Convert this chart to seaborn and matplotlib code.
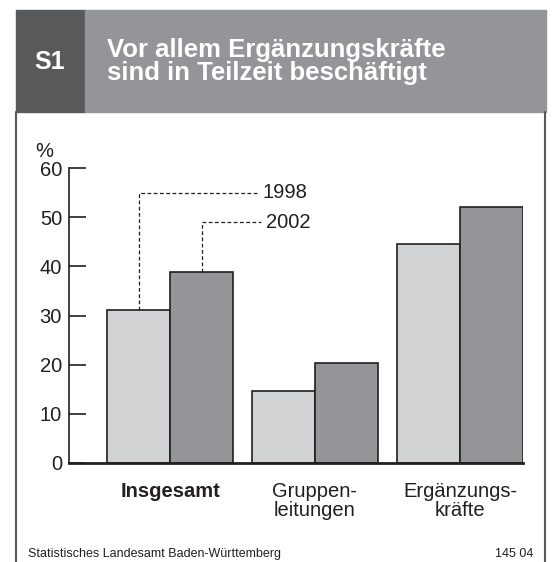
import matplotlib
matplotlib.use("Agg")
import matplotlib.pyplot as plt
from matplotlib.patches import Rectangle
from matplotlib.lines import Line2D
import pandas as pd
import seaborn as sns

groups = ["Insgesamt", "Gruppen-\nleitungen", "Ergänzungs-\nkräfte"]
years = ["1998", "2002"]
values_1998 = [31.1, 14.6, 44.5]
values_2002 = [38.8, 20.3, 52.0]
y_ticks = [0, 10, 20, 30, 40, 50, 60]
leader_y = [55, 49]

df = pd.DataFrame({
    "group": groups * 2,
    "year": [years[0]] * 3 + [years[1]] * 3,
    "value": values_1998 + values_2002,
})

sns.set_style("ticks")
plt.rcParams["font.family"] = ["Liberation Sans", "DejaVu Sans"]

W, H = 552, 562
ink = "#231f20"
fig = plt.figure(figsize=(W / 100, H / 100), dpi=100)
ax = fig.add_axes([69 / W, 1 - 463 / H, 454 / W, 295 / H])

sns.barplot(data=df, x="group", y="value", hue="year", order=groups,
            hue_order=years, palette=["#d1d2d4", "#939598"], width=0.87,
            edgecolor=ink, linewidth=1.2, saturation=1, legend=False,
            ax=ax)

ax.set_xlim(-0.697, 2.435)
ax.set_ylim(0, 60)
ax.set_yticks(y_ticks)
ax.set_xlabel("")
ax.set_ylabel("")
for s in ["top", "right"]:
    ax.spines[s].set_visible(False)
ax.spines["left"].set_color(ink)
ax.spines["left"].set_linewidth(1.2)
ax.spines["bottom"].set_color(ink)
ax.spines["bottom"].set_linewidth(2)
ax.tick_params(axis="y", direction="in", length=12, width=1.2, pad=5,
               labelsize=14.5, colors=ink)
ax.tick_params(axis="x", length=0, pad=14, labelsize=14.5, colors=ink)
for lbl in ax.get_xticklabels():
    lbl.set_linespacing(1.0)
ax.get_xticklabels()[0].set_fontweight("bold")

ax.text(-0.035, 1.025, "%", transform=ax.transAxes, ha="right", va="bottom",
        fontsize=14.5, color=ink)

# leader lines to the first group's bars
bars = [p for p in ax.patches if p.get_height() > 0]
first = [bars[0], bars[3]]
label_x = [0.6, 0.63]
for bar, y, yr, lx in zip(first, leader_y, years, label_x):
    cx = bar.get_x() + bar.get_width() / 2
    ax.plot([cx, cx, lx], [bar.get_height(), y, y], ls=(0, (3, 2)),
            color=ink, lw=0.9, clip_on=False)
    ax.text(lx + 0.035, y, yr, ha="left", va="center", fontsize=14.5,
            color=ink)

# header band
fig.patches.append(Rectangle((16 / W, 1 - 112 / H), 69 / W, 102 / H,
                             transform=fig.transFigure, color="#58595b"))
fig.patches.append(Rectangle((85 / W, 1 - 112 / H), 461 / W, 102 / H,
                             transform=fig.transFigure, color="#939598"))
fig.text(50 / W, 1 - 69 / H, "S1", ha="center", va="baseline", color="white",
         fontsize=18, fontweight="bold")
fig.text(107 / W, 1 - 57 / H, "Vor allem Ergänzungskräfte", ha="left",
         va="baseline", color="white", fontsize=18.5, fontweight="bold")
fig.text(107 / W, 1 - 80 / H, "sind in Teilzeit beschäftigt", ha="left",
         va="baseline", color="white", fontsize=18.5, fontweight="bold")

# frame
for x in [16, 545]:
    fig.lines.append(Line2D([x / W, x / W], [0, 1 - 112 / H],
                            transform=fig.transFigure, color="#58595b", lw=1.5))

fig.text(28 / W, 1 - 557 / H, "Statistisches Landesamt Baden-Württemberg",
         ha="left", va="baseline", fontsize=9, color=ink)
fig.text(533 / W, 1 - 557 / H, "145 04", ha="right", va="baseline",
         fontsize=9, color=ink)

fig.savefig("out.png", dpi=100, facecolor="white")
